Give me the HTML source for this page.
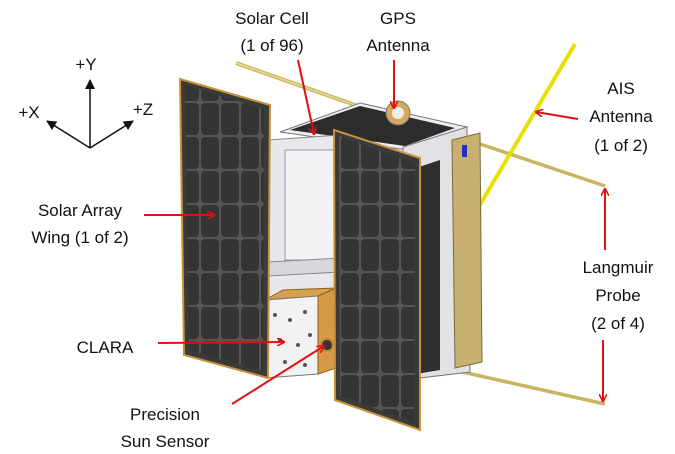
<!DOCTYPE html>
<html><head><style>
body{margin:0;background:#fff}
svg{display:block}
text{font-family:"Liberation Sans",sans-serif;font-size:17px;fill:#111;text-anchor:middle}
</style></head><body>
<svg width="675" height="454" viewBox="0 0 675 454">
<defs>
<marker id="r" markerWidth="8" markerHeight="8" refX="7" refY="4" orient="auto" markerUnits="userSpaceOnUse"><path d="M0,0 L8,4 L0,8" fill="none" stroke="#e01010" stroke-width="1.6"/></marker>
<marker id="k" markerWidth="10" markerHeight="10" refX="9" refY="5" orient="auto" markerUnits="userSpaceOnUse"><path d="M0,0 L10,5 L0,10 z" fill="#111"/></marker>
<pattern id="cells" width="20" height="34" patternUnits="userSpaceOnUse"><rect width="20" height="34" fill="#555"/><rect x="1" y="1" width="18" height="32" rx="4" fill="#343434"/></pattern>
</defs>
<g stroke="#111" stroke-width="1.5" fill="none">
<line x1="90" y1="148" x2="90" y2="80" marker-end="url(#k)"/>
<line x1="90" y1="148" x2="47" y2="121" marker-end="url(#k)"/>
<line x1="90" y1="148" x2="133" y2="121" marker-end="url(#k)"/>
</g>
<text x="86" y="70">+Y</text><text x="29" y="118">+X</text><text x="143" y="115">+Z</text>
<line x1="236" y1="63" x2="460" y2="142" stroke="#c9b560" stroke-width="4"/>
<line x1="236" y1="63" x2="460" y2="142" stroke="#e8dc90" stroke-width="1.5"/>
<line x1="468" y1="140" x2="605" y2="186" stroke="#c9b560" stroke-width="3.5"/>
<line x1="575" y1="44" x2="468" y2="225" stroke="#e8e000" stroke-width="4"/>
<line x1="320" y1="340" x2="605" y2="404" stroke="#c9b560" stroke-width="3.5"/>
<polygon points="280,132 360,103 467,127 407,150" fill="#eeeef2" stroke="#777"/>
<polygon points="290,130 360,106 455,128 405,146" fill="#2c2c2c"/>
<circle cx="398" cy="113" r="12" fill="#d9a860" stroke="#777"/>
<circle cx="398" cy="113" r="6" fill="#eee"/>
<polygon points="268,140 340,135 340,300 268,300" fill="#e8e8ec" stroke="#888"/>
<rect x="285" y="150" width="50" height="110" fill="#f3f3f5" stroke="#999"/>
<polygon points="268,262 340,258 340,272 268,276" fill="#d8d8dc" stroke="#888"/>
<polygon points="403,147 467,127 470,372 403,380" fill="#e2e2e6" stroke="#777"/>
<polygon points="410,170 440,160 440,370 410,375" fill="#2f2f2f"/>
<polygon points="452,140 480,133 482,362 455,368" fill="#c8b070" stroke="#7a6a3a"/>
<rect x="462" y="145" width="5" height="12" fill="#2030c0"/>
<polygon points="265,300 318,296 336,288 283,290" fill="#d9a050" stroke="#8a6020"/>
<polygon points="265,300 318,296 318,374 265,378" fill="#f2f2f2" stroke="#777"/>
<polygon points="318,296 336,288 336,368 318,374" fill="#d49a48" stroke="#8a6020"/>
<circle cx="327" cy="345" r="6" fill="#333" stroke="#c08a30" stroke-width="2"/>
<g fill="#555"><circle cx="275" cy="315" r="2"/><circle cx="290" cy="320" r="2"/><circle cx="305" cy="312" r="2"/><circle cx="280" cy="340" r="2"/><circle cx="298" cy="345" r="2"/><circle cx="310" cy="335" r="2"/><circle cx="285" cy="362" r="2"/><circle cx="305" cy="365" r="2"/></g>
<polygon points="180,79 270,105 268,378 184,355" fill="#3a3a3a" stroke="#c8923c" stroke-width="2"/>
<polygon points="185,85 264,109 263,371 189,350" fill="url(#cells)"/>
<polygon points="334,130 420,158 420,430 335,400" fill="#3a3a3a" stroke="#c8923c" stroke-width="2"/>
<polygon points="339,136 415,163 414,423 340,395" fill="url(#cells)"/>
<text x="272" y="24">Solar Cell</text><text x="272" y="51">(1 of 96)</text>
<text x="398" y="24">GPS</text><text x="398" y="51">Antenna</text>
<text x="621" y="94">AIS</text><text x="621" y="122">Antenna</text><text x="621" y="151">(1 of 2)</text>
<text x="80" y="216">Solar Array</text><text x="80" y="243">Wing (1 of 2)</text>
<text x="618" y="273">Langmuir</text><text x="618" y="301">Probe</text><text x="618" y="329">(2 of 4)</text>
<text x="105" y="353">CLARA</text>
<text x="165" y="420">Precision</text><text x="165" y="447">Sun Sensor</text>
<g stroke="#e01010" stroke-width="2" fill="none">
<line x1="298" y1="60" x2="314" y2="134" marker-end="url(#r)"/>
<line x1="394" y1="60" x2="394" y2="108" marker-end="url(#r)"/>
<line x1="578" y1="119" x2="536" y2="112" marker-end="url(#r)"/>
<line x1="144" y1="215" x2="214" y2="215" marker-end="url(#r)"/>
<line x1="605" y1="250" x2="605" y2="189" marker-end="url(#r)"/>
<line x1="603" y1="340" x2="603" y2="401" marker-end="url(#r)"/>
<line x1="158" y1="343" x2="284" y2="342" marker-end="url(#r)"/>
<line x1="232" y1="404" x2="324" y2="346" marker-end="url(#r)"/>
</g>
</svg>
</body></html>
